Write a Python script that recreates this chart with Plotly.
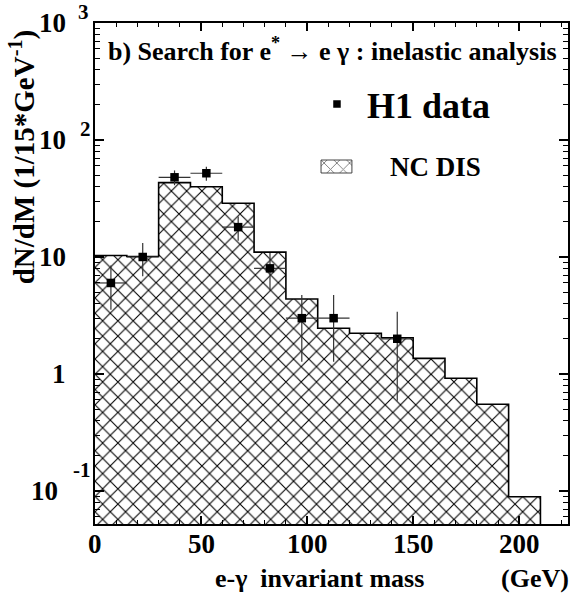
import plotly.graph_objects as go

# ---- data -------------------------------------------------------------
# NC DIS expectation, 15 GeV bins (bin centres in GeV)
mc_centers = [7.5, 22.5, 37.5, 52.5, 67.5, 82.5, 97.5, 112.5, 127.5,
              142.5, 157.5, 172.5, 187.5, 202.5]
mc_values = [10.3, 10.1, 43.2, 39.9, 28.8, 11.0, 4.38, 2.46, 2.23,
             2.04, 1.36, 0.92, 0.551, 0.0894]
bin_edges = [0, 15, 30, 45, 60, 75, 90, 105, 120, 135, 150, 165, 180,
             195, 210]
bin_width = 15

# H1 data points with statistical errors
data_x = [7.5, 22.5, 37.5, 52.5, 67.5, 82.5, 97.5, 112.5, 142.5]
data_y = [6, 10, 48, 52, 18, 8, 3, 3, 2]
data_err = [2.45, 3.16, 6.93, 7.21, 4.24, 2.83, 1.73, 1.73, 1.41]

x_ticks = [0, 50, 100, 150, 200]
y_decades = [-1, 0, 1, 2, 3]
y_base_text = ["10", "1", "10", "10", "10"]
y_exp_text = ["-1", "", "", "2", "3"]

# ---- style ------------------------------------------------------------
SERIF = "Liberation Serif, Times New Roman, serif"
X_RANGE = [0, 223]
Y_RANGE = [-1.282, 3.0]
W, H = 581, 594
M_L, M_R, M_T, M_B = 95, 11, 23, 70
PW = W - M_L - M_R
PH = H - M_T - M_B


def px_x(px):
    return (px - M_L) / PW


def px_y(py):
    return 1 - (py - M_T) / PH


def bold(size):
    return dict(family=SERIF, size=size, color="black", weight="bold")


fig = go.Figure()

# hatched histogram body
fig.add_trace(go.Bar(
    x=mc_centers, y=mc_values, width=bin_width,
    marker=dict(color="white", line=dict(width=0),
                pattern=dict(shape="x", size=10.8, solidity=0.19,
                             fgcolor="black", bgcolor="white",
                             fillmode="replace")),
    showlegend=False, hoverinfo="skip",
))

# histogram outline drawn as a step line
step_x = bin_edges + [bin_edges[-1]]
step_y = mc_values + [mc_values[-1], 10 ** (Y_RANGE[0] - 0.2)]
fig.add_trace(go.Scatter(
    x=step_x, y=step_y, mode="lines", line_shape="hv",
    line=dict(color="black", width=1.6),
    showlegend=False, hoverinfo="skip",
))

# H1 data
fig.add_trace(go.Scatter(
    x=data_x, y=data_y, mode="markers",
    marker=dict(symbol="square", size=8.5, color="black"),
    error_y=dict(type="data", array=data_err, color="#333333",
                 thickness=1.2, width=0),
    error_x=dict(type="constant", value=bin_width / 2, color="#333333",
                 thickness=1.2, width=0),
    showlegend=False,
))

# legend keys on an overlay axis spanning the plot area
fig.add_trace(go.Scatter(
    x=[px_x(338)], y=[px_y(104)], mode="markers",
    marker=dict(symbol="square", size=7.5, color="black"),
    xaxis="x2", yaxis="y2", showlegend=False, hoverinfo="skip",
))
kx0, kx1 = px_x(322), px_x(353)
ky0, ky1 = px_y(173), px_y(160)
fig.add_trace(go.Scatter(
    x=[kx0, kx1, kx1, kx0, kx0], y=[ky0, ky0, ky1, ky1, ky0],
    mode="lines", fill="toself", fillcolor="white",
    fillpattern=dict(shape="x", size=9, solidity=0.2,
                     fgcolor="black", bgcolor="white"),
    line=dict(color="#444444", width=1),
    xaxis="x2", yaxis="y2", showlegend=False, hoverinfo="skip",
))

ann = []
# y tick labels, ROOT style: base + raised exponent
for dec, base, exp in zip(y_decades, y_base_text, y_exp_text):
    right = 60 if exp == "-1" else 68
    ann.append(dict(x=px_x(right), y=dec, xref="paper", yref="y",
                    xanchor="right", yanchor="middle", text=base,
                    showarrow=False, font=bold(27)))
    if exp:
        left = {"-1": 71, "2": 78, "3": 76}[exp]
        shift = {"-1": 21, "2": 11, "3": 11}[exp]
        ann.append(dict(x=px_x(left), y=dec, xref="paper", yref="y",
                        xanchor="left", yanchor="middle", yshift=shift,
                        text=exp, showarrow=False, font=bold(21)))

# x tick labels
for v in x_ticks:
    ann.append(dict(x=v, y=px_y(544), xref="x", yref="paper",
                    xanchor="center", yanchor="middle", text=str(v),
                    showarrow=False, font=bold(27)))

# in-plot title and legend text
ann.append(dict(x=px_x(106), y=px_y(50), xref="paper", yref="paper",
                xanchor="left", yanchor="middle", showarrow=False,
                text="b) Search for e<sup>*</sup> \u2192 e \u03b3 : inelastic analysis",
                font=bold(26)))
ann.append(dict(x=px_x(366), y=px_y(106), xref="paper", yref="paper",
                xanchor="left", yanchor="middle", showarrow=False,
                text="H1 data", font=bold(36)))
ann.append(dict(x=px_x(389), y=px_y(167), xref="paper", yref="paper",
                xanchor="left", yanchor="middle", showarrow=False,
                text="NC DIS", font=bold(27)))

# axis titles
ann.append(dict(x=px_x(320), y=px_y(578), xref="paper", yref="paper",
                xanchor="center", yanchor="middle", showarrow=False,
                text="e-\u03b3  invariant mass", font=bold(26)))
ann.append(dict(x=px_x(573), y=px_y(578), xref="paper", yref="paper",
                xanchor="right", yanchor="middle", showarrow=False,
                text="(GeV)", font=bold(26)))
ann.append(dict(x=px_x(23), y=px_y(157), xref="paper", yref="paper",
                xanchor="center", yanchor="middle", showarrow=False,
                textangle=-90,
                text="dN/dM (1/15*GeV<sup>-1</sup>)", font=bold(29)))

fig.update_layout(
    width=W, height=H,
    margin=dict(l=M_L, r=M_R, t=M_T, b=M_B, pad=0),
    paper_bgcolor="white", plot_bgcolor="white",
    bargap=0, showlegend=False,
    annotations=ann,
    xaxis=dict(
        range=X_RANGE, tickvals=x_ticks,
        ticks="inside", ticklen=8, tickwidth=1.5, tickcolor="black",
        minor=dict(dtick=10, ticks="inside", ticklen=4, tickwidth=1.2,
                   tickcolor="black", showgrid=False),
        showline=True, linewidth=2, linecolor="black", mirror="allticks",
        showgrid=False, zeroline=False, showticklabels=False,
    ),
    yaxis=dict(
        type="log", range=Y_RANGE, dtick=1,
        ticks="inside", ticklen=9, tickwidth=1.5, tickcolor="black",
        minor=dict(ticks="inside", ticklen=5, tickwidth=1.2,
                   tickcolor="black", showgrid=False),
        showline=True, linewidth=2, linecolor="black", mirror="allticks",
        showgrid=False, zeroline=False, showticklabels=False,
    ),
    xaxis2=dict(overlaying="x", range=[0, 1], visible=False),
    yaxis2=dict(overlaying="y", range=[0, 1], visible=False),
)

fig.write_html("out.html")
